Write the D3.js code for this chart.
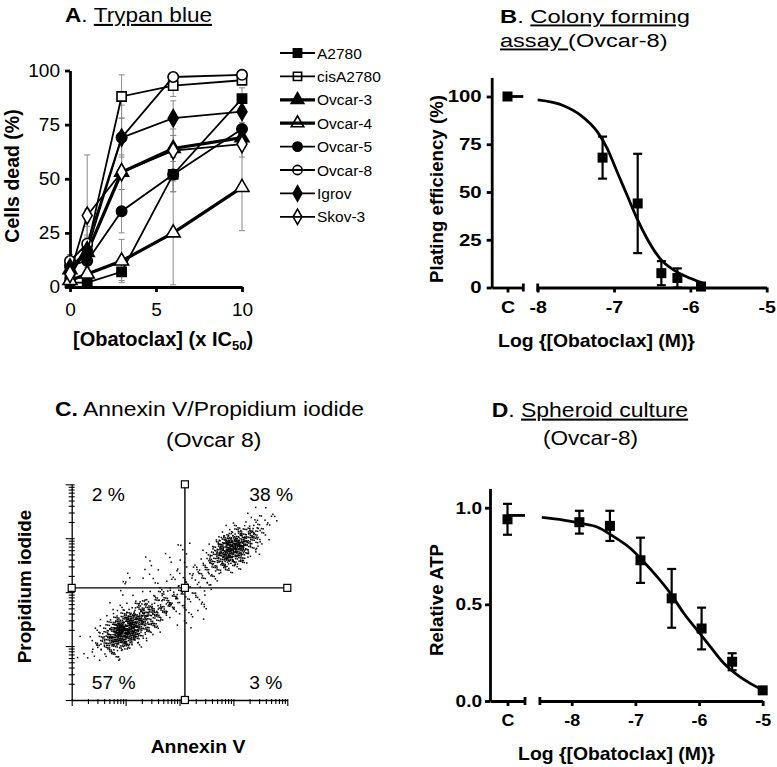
<!DOCTYPE html>
<html><head><meta charset="utf-8">
<script src="https://cdn.jsdelivr.net/npm/d3@7/dist/d3.min.js"></script>
<style>
html,body{margin:0;padding:0;background:#fff;}
svg{display:block;font-family:"Liberation Sans",Arial,sans-serif;}
</style></head>
<body><svg id="fig" width="777" height="767"></svg>
<script>
// ================= DATA =================
// ---- Panel A : Trypan blue ----
const doseA = [0, 1, 3, 6, 10];
const cellLines = ["A2780","cisA2780","Ovcar-3","Ovcar-4","Ovcar-5","Ovcar-8","Igrov","Skov-3"];
const deadA2780    = [2, 2, 7, 52, 87];
const deadCisA2780 = [5, 18, 88, 93, 95.5];
const deadOvcar3   = [8, 16, 53, 64, 69];
const deadOvcar4   = [3, 6, 12, 25, 46];
const deadOvcar5   = [10, 12, 35, 52, 73];
const deadOvcar8   = [12, 20, 69, 97, 98];
const deadIgrov    = [9, 17, 69, 78, 81];
const deadSkov3    = [6, 33, 53, 63, 66];
const sdA2780    = [1, 1, 4, 8, 5];
const sdCisA2780 = [2, 18, 10, 5, 2];
const sdOvcar3   = [2, 8, 8, 6, 4];
const sdOvcar4   = [1, 3, 10, 24, 20];
const sdOvcar5   = [3, 5, 10, 8, 6];
const sdOvcar8   = [3, 8, 15, 2, 1];
const sdIgrov    = [2, 6, 9, 8, 5];
const sdSkov3    = [2, 28, 18, 10, 6];
const yTicksA = [0, 25, 50, 75, 100];
const xTicksA = [0, 5, 10];

// ---- Panel B : Colony forming ----
const bLogDose = [-7.15, -6.69, -6.38, -6.17, -5.86];
const bPlating = [68, 44, 7.5, 5, 0.5];
const bErr     = [11, 26, 6.3, 5, 1.5];
const bControl = 100;
const bCurveX = [-8.0, -7.66, -7.44, -7.22, -7.09, -6.96, -6.83, -6.70, -6.57, -6.40, -6.22, -6.0, -5.83];
const bCurveY = [98.2, 95.2, 90.3, 81.6, 72.9, 60.6, 48.4, 36.2, 25.8, 15.3, 9.2, 4.8, 2.2];
const yTicksB = [0, 25, 50, 75, 100];
const xTicksB = [-8, -7, -6, -5];

// ---- Panel C : Annexin V / PI (cells of 0.2 decade: [annexinCell, piCell, count]) ----
const facsCells = [
 [0,4,1],[1,4,3],[1,5,2],
 [2,3,1],[2,4,6],[2,5,10],[2,6,4],[2,7,1],
 [3,4,15],[3,5,45],[3,6,32],[3,7,3],[3,9,1],
 [4,4,8],[4,5,70],[4,6,120],[4,7,30],[4,8,3],[4,10,2],
 [5,5,35],[5,6,100],[5,7,65],[5,8,8],[5,9,2],[5,10,2],[5,11,2],
 [6,5,6],[6,6,40],[6,7,55],[6,8,25],[6,9,3],[6,11,2],[6,12,1],
 [7,6,10],[7,7,30],[7,8,30],[7,9,8],[7,10,2],[7,11,3],[7,12,2],
 [8,7,10],[8,8,22],[8,9,16],[8,10,3],[8,11,3],[8,13,1],
 [9,8,10],[9,9,14],[9,10,5],[9,11,3],[9,12,2],[9,13,2],
 [10,7,3],[10,8,4],[10,9,8],[10,10,4],[10,11,4],[10,12,2],[10,13,3],[10,14,2],
 [11,7,2],[11,8,4],[11,9,8],[11,10,5],[11,11,8],[11,12,3],
 [12,8,2],[12,9,3],[12,10,3],[12,11,12],[12,12,14],[12,13,5],
 [13,11,6],[13,12,25],[13,13,40],[13,14,12],
 [14,12,20],[14,13,85],[14,14,75],[14,15,8],
 [15,12,8],[15,13,50],[15,14,95],[15,15,25],
 [16,13,8],[16,14,32],[16,15,30],[16,16,6],
 [17,14,4],[17,15,12],[17,16,8],[17,17,2],
 [18,16,4],[18,17,3]
];
const gateAnnexin = 126;   // ~10^2.1
const gatePI = 120;        // ~10^2.08
const quadLabels = ["2 %", "38 %", "57 %", "3 %"];

// ---- Panel D : Spheroid culture ----
const dLogDose = [-7.88, -7.40, -6.92, -6.43, -5.96, -5.48, -5.00];
const dATP     = [0.925, 0.906, 0.728, 0.531, 0.375, 0.203, 0.055];
const dErr     = [0.059, 0.078, 0.117, 0.152, 0.108, 0.044, 0];
const dControl = 0.94, dControlErr = 0.08, dTop = 0.96;
const dCurveX = [-8.47, -8.13, -7.87, -7.6, -7.34, -7.08, -6.87, -6.66, -6.45, -6.24, -6.03, -5.82, -5.61, -5.4, -5.19, -5.0];
const dCurveY = [0.95, 0.936, 0.92, 0.90, 0.85, 0.79, 0.72, 0.643, 0.557, 0.454, 0.367, 0.28, 0.195, 0.135, 0.09, 0.057];
const yTicksD = [0, 0.5, 1.0];
const xTicksD = [-8, -7, -6, -5];

// ================= HELPERS =================
const FONT = '"Liberation Sans", Arial, sans-serif';
const svg = d3.select("#fig");

function txt(parent, x, y, parts, o = {}) {
  const t = parent.append("text")
    .attr("transform", `translate(${x},${y})` + (o.rot ? ` rotate(${o.rot})` : "") + ` scale(${o.sx || 1},1)`)
    .attr("text-anchor", o.anchor || "start")
    .attr("xml:space", "preserve")
    .style("font-family", FONT)
    .style("font-size", (o.size || 16) + "px")
    .style("font-weight", o.bold ? "bold" : "normal")
    .attr("fill", "#000");
  (typeof parts === "string" ? [{t: parts}] : parts).forEach(p => {
    const s = t.append("tspan").text(p.t);
    if (p.b) s.style("font-weight", "bold");
    if (p.n) s.style("font-weight", "normal");
    if (p.u) s.style("text-decoration", "underline");
    if (p.dy) s.attr("dy", p.dy);
    if (p.fs) s.style("font-size", p.fs + "px");
  });
  return t;
}

function styleAxis(g, w, size, bold, sx) {
  g.attr("font-family", FONT);
  g.select(".domain").attr("stroke-width", w).attr("stroke", "#000");
  g.selectAll(".tick line").attr("stroke-width", w).attr("stroke", "#000");
  g.selectAll(".tick text")
    .style("font-size", size + "px").style("font-weight", bold ? "bold" : "normal")
    .style("font-family", FONT).attr("fill", "#000")
    .each(function () {
      const t = d3.select(this);
      const x = +t.attr("x") || 0;
      t.attr("x", x / sx).attr("transform", `scale(${sx},1)`);
    });
}

// ================= PANEL A =================
const gA = svg.append("g");
const xA = d3.scaleLinear().domain([0, 10]).range([70, 242]);
const yA = d3.scaleLinear().domain([0, 100]).range([287, 70.5]);

const seriesA = [
  {vals: deadA2780,    sd: sdA2780,    sym: d3.symbolSquare,   fill: true,  thick: false, size: 85},
  {vals: deadCisA2780, sd: sdCisA2780, sym: d3.symbolSquare,   fill: false, thick: false, size: 85},
  {vals: deadOvcar3,   sd: sdOvcar3,   sym: d3.symbolTriangle, fill: true,  thick: true,  size: 85},
  {vals: deadOvcar4,   sd: sdOvcar4,   sym: d3.symbolTriangle, fill: false, thick: true,  size: 85},
  {vals: deadOvcar5,   sd: sdOvcar5,   sym: d3.symbolCircle,   fill: true,  thick: false, size: 85},
  {vals: deadOvcar8,   sd: sdOvcar8,   sym: d3.symbolCircle,   fill: false, thick: false, size: 85},
  {vals: deadIgrov,    sd: sdIgrov,    sym: d3.symbolDiamond,  fill: true,  thick: false, size: 85},
  {vals: deadSkov3,    sd: sdSkov3,    sym: d3.symbolDiamond,  fill: false, thick: false, size: 85}
].map((s, i) => Object.assign(s, {name: cellLines[i]}));

// error bars
const errG = gA.append("g").attr("stroke", "#8a8a8a").attr("stroke-width", 1);
seriesA.forEach(s => {
  doseA.forEach((d, k) => {
    const lo = Math.max(0, s.vals[k] - s.sd[k]), hi = s.vals[k] + s.sd[k];
    errG.append("line").attr("x1", xA(d)).attr("x2", xA(d)).attr("y1", yA(lo)).attr("y2", yA(hi));
    errG.append("line").attr("x1", xA(d) - 3).attr("x2", xA(d) + 3).attr("y1", yA(hi)).attr("y2", yA(hi));
    errG.append("line").attr("x1", xA(d) - 3).attr("x2", xA(d) + 3).attr("y1", yA(lo)).attr("y2", yA(lo));
  });
});

// axes A
const axYA = gA.append("g").attr("transform", "translate(70,0)")
  .call(d3.axisLeft(yA).tickValues(yTicksA).tickSize(5).tickPadding(5).tickSizeOuter(0));
styleAxis(axYA, 2.8, 18, false, 1.06);
const axXA = gA.append("g").attr("transform", "translate(0,287)")
  .call(d3.axisBottom(xA).tickValues(xTicksA).tickSize(5).tickPadding(11).tickSizeOuter(0));
styleAxis(axXA, 2.8, 18, false, 1.06);

// lines + markers
const lineA = d3.line().x((d, k) => xA(doseA[k])).y(d => yA(d));
seriesA.forEach(s => {
  gA.append("path").attr("d", lineA(s.vals)).attr("fill", "none")
    .attr("stroke", "#000").attr("stroke-width", s.thick ? 3.2 : 1.8);
  gA.selectAll(null).data(s.vals).enter().append("path")
    .attr("transform", (d, k) => `translate(${xA(doseA[k])},${yA(d)})`)
    .attr("d", d3.symbol().type(s.sym).size(s.size))
    .attr("fill", s.fill ? "#000" : "#fff").attr("stroke", "#000").attr("stroke-width", 1.6);
});

// legend A
const legA = gA.append("g");
seriesA.forEach((s, i) => {
  const y = 53 + i * 23.4;
  legA.append("line").attr("x1", 280).attr("x2", 315).attr("y1", y).attr("y2", y)
    .attr("stroke", "#000").attr("stroke-width", s.thick ? 3.2 : 1.8);
  legA.append("path").attr("transform", `translate(297.5,${y})`)
    .attr("d", d3.symbol().type(s.sym).size(s.size * 0.8))
    .attr("fill", s.fill ? "#000" : "none").attr("stroke", "#000").attr("stroke-width", 1.6);
  txt(legA, 317, y + 5.5, s.name, {size: 15.5});
});

// titles / labels A
txt(gA, 65, 22, [{t: "A", b: true}, {t: ". "}, {t: "Trypan blue", u: true}], {size: 20.5, sx: 1.1});
txt(gA, 19, 176, "Cells dead (%)", {size: 19.5, bold: true, rot: -90, anchor: "middle"});
txt(gA, 73, 346, [{t: "[Obatoclax] (x IC"}, {t: "50", fs: 13, dy: 4}, {t: ")", dy: -4}], {size: 20, bold: true});

// ================= PANEL B =================
const gB = svg.append("g");
const yB = d3.scaleLinear().domain([0, 110]).range([287.5, 287.5 - 110 * 1.91]);
const cB = d3.scalePoint().domain(["C"]).range([491.7, 523.3]).padding(0.5);
const xB = d3.scaleLinear().domain([-8, -5]).range([537.7, 766.7]);

const axYB = gB.append("g").attr("transform", "translate(491.7,0)")
  .call(d3.axisLeft(yB).tickValues(yTicksB).tickSize(5).tickPadding(5).tickSizeOuter(0));
styleAxis(axYB, 2.8, 17, true, 1.2);
const axCB = gB.append("g").attr("transform", "translate(0,287.5)")
  .call(d3.axisBottom(cB).tickSize(5).tickPadding(8).tickSizeOuter(0));
styleAxis(axCB, 2.8, 17, true, 1.15);
const axXB = gB.append("g").attr("transform", "translate(0,287.5)")
  .call(d3.axisBottom(xB).tickValues(xTicksB).tickFormat(d => String(d)).tickSize(5).tickPadding(8).tickSizeOuter(0));
styleAxis(axXB, 2.8, 17, true, 1.15);
[cB.range()[1], xB.range()[0]].forEach(x => gB.append("line").attr("x1", x).attr("x2", x)
  .attr("y1", 287.5 - 4).attr("y2", 287.5 + 4).attr("stroke", "#000").attr("stroke-width", 2.8));

// curve
gB.append("path").datum(bCurveX.map((x, i) => [x, bCurveY[i]]))
  .attr("d", d3.line().x(d => xB(d[0])).y(d => yB(d[1])).curve(d3.curveMonotoneX))
  .attr("fill", "none").attr("stroke", "#000").attr("stroke-width", 2.8);
// control
gB.append("line").attr("x1", cB("C")).attr("x2", cB.range()[1]).attr("y1", yB(bControl)).attr("y2", yB(bControl))
  .attr("stroke", "#000").attr("stroke-width", 2.8);
gB.append("rect").attr("x", cB("C") - 5).attr("y", yB(bControl) - 5).attr("width", 10).attr("height", 10).attr("fill", "#000");
// error bars + points
bLogDose.forEach((x, i) => {
  const lo = Math.max(0, bPlating[i] - bErr[i]), hi = bPlating[i] + bErr[i];
  const X = xB(x);
  gB.append("line").attr("x1", X).attr("x2", X).attr("y1", yB(lo)).attr("y2", yB(hi)).attr("stroke", "#000").attr("stroke-width", 2.2);
  [lo, hi].forEach(v => gB.append("line").attr("x1", X - 4.5).attr("x2", X + 4.5).attr("y1", yB(v)).attr("y2", yB(v)).attr("stroke", "#000").attr("stroke-width", 2.2));
  gB.append("rect").attr("x", X - 5).attr("y", yB(bPlating[i]) - 5).attr("width", 10).attr("height", 10).attr("fill", "#000");
});
txt(gB, 500, 22.7, [{t: "B", b: true}, {t: ". "}, {t: "Colony forming", u: true}], {size: 19, sx: 1.25});
txt(gB, 500, 46.7, [{t: "assay ", u: true}, {t: "(Ovcar-8)"}], {size: 19, sx: 1.24});
txt(gB, 443, 189, "Plating efficiency (%)", {size: 18.7, bold: true, rot: -90, anchor: "middle"});
txt(gB, 596.5, 346.5, "Log {[Obatoclax] (M)}", {size: 18.8, bold: true, anchor: "middle", sx: 1.03});

// ================= PANEL C =================
const gC = svg.append("g");
const xC = d3.scaleLog().domain([1, 1e4]).range([71.7, 287.3]);
const yC = d3.scaleLog().domain([1, 1e4]).range([700, 484.3]);
const logTicks = [];
for (let e = 0; e < 4; e++) for (let m = 1; m <= 9; m++) logTicks.push(m * Math.pow(10, e));
logTicks.push(1e4);
const isMajor = v => Math.abs(Math.log10(v) - Math.round(Math.log10(v))) < 1e-9;

// dots: each cell's events spread smoothly around the cell centre
const frac = v => v - Math.floor(v);
const dotG = gC.append("g").attr("fill", "#000");
facsCells.forEach(([i, j, n]) => {
  for (let k = 0; k < n; k++) {
    const u = frac(0.31 + k * 0.7548776662 + i * 0.37 + j * 0.11) + frac(0.17 + k * 0.4142135624 + i * 0.23 + j * 0.53);
    const v = frac(0.43 + k * 0.5698402910 + j * 0.41 + i * 0.07) + frac(0.61 + k * 0.2360679775 + j * 0.19 + i * 0.29);
    const lx = (i - 0.5 + u) * 0.2, ly = (j - 0.5 + v) * 0.2;
    dotG.append("rect").attr("x", xC(Math.pow(10, lx)) - 0.7).attr("y", yC(Math.pow(10, ly)) - 0.7)
      .attr("width", 1.5).attr("height", 1.5);
  }
});

const axYC = gC.append("g").attr("transform", "translate(71.7,0)")
  .call(d3.axisLeft(yC).tickValues(logTicks).tickFormat("").tickSize(3).tickSizeOuter(0));
axYC.selectAll(".tick line").attr("x1", 3).attr("x2", d => isMajor(d) ? -6 : -3);
const axXC = gC.append("g").attr("transform", "translate(0,700)")
  .call(d3.axisBottom(xC).tickValues(logTicks).tickFormat("").tickSize(3).tickSizeOuter(0));
axXC.selectAll(".tick line").attr("y1", -1).attr("y2", d => isMajor(d) ? 6 : 4);
[axYC, axXC].forEach(g => { g.select(".domain").attr("stroke", "#000").attr("stroke-width", 1.3); g.selectAll(".tick line").attr("stroke", "#000").attr("stroke-width", 1.1); });

// gates
const gx = xC(gateAnnexin), gy = yC(gatePI);
gC.append("line").attr("x1", gx).attr("x2", gx).attr("y1", yC(1e4)).attr("y2", yC(1)).attr("stroke", "#000").attr("stroke-width", 1.4);
gC.append("line").attr("x1", xC(1)).attr("x2", xC(1e4)).attr("y1", gy).attr("y2", gy).attr("stroke", "#000").attr("stroke-width", 1.4);
[[gx, yC(1e4)], [gx, yC(1)], [xC(1), gy], [xC(1e4), gy], [gx, gy]].forEach(([x, y]) =>
  gC.append("rect").attr("x", x - 3.5).attr("y", y - 3.5).attr("width", 7).attr("height", 7)
    .attr("fill", "#fff").attr("stroke", "#000").attr("stroke-width", 1.2));

txt(gC, 91.7, 500.7, quadLabels[0], {size: 18.5, sx: 1.04});
txt(gC, 249.3, 500.7, quadLabels[1], {size: 18.5, sx: 1.04});
txt(gC, 91.7, 689.3, quadLabels[2], {size: 18.5, sx: 1.04});
txt(gC, 249.3, 689.3, quadLabels[3], {size: 18.5, sx: 1.04});

txt(gC, 55, 416, [{t: "C.", b: true}, {t: " Annexin V/Propidium iodide"}], {size: 21, sx: 1.09});
txt(gC, 213.7, 446.7, "(Ovcar 8)", {size: 21, sx: 1.09, anchor: "middle"});
txt(gC, 31, 586.5, "Propidium iodide", {size: 18.8, bold: true, rot: -90, anchor: "middle"});
txt(gC, 198, 752.7, "Annexin V", {size: 19, bold: true, anchor: "middle", sx: 1.02});

// ================= PANEL D =================
const gD = svg.append("g");
const yD = d3.scaleLinear().domain([0, 1.1]).range([701, 701 - 1.1 * 193.3]);
const cD = d3.scalePoint().domain(["C"]).range([490, 525]).padding(0.5);
const xD = d3.scaleLinear().domain([-8.5, -5]).range([539.9, 762.7]);

const axYD = gD.append("g").attr("transform", "translate(490,0)")
  .call(d3.axisLeft(yD).tickValues(yTicksD).tickFormat(d3.format(".1f")).tickSize(5).tickPadding(3).tickSizeOuter(0));
styleAxis(axYD, 2.8, 17, true, 1.12);
const axCD = gD.append("g").attr("transform", "translate(0,701)")
  .call(d3.axisBottom(cD).tickSize(5).tickPadding(8).tickSizeOuter(0));
styleAxis(axCD, 2.8, 17, true, 1.05);
const axXD = gD.append("g").attr("transform", "translate(0,701)")
  .call(d3.axisBottom(xD).tickValues(xTicksD).tickFormat(d => String(d)).tickSize(5).tickPadding(8).tickSizeOuter(0));
styleAxis(axXD, 2.8, 17, true, 1.05);
[cD.range()[1], xD.range()[0]].forEach(x => gD.append("line").attr("x1", x).attr("x2", x)
  .attr("y1", 701 - 4).attr("y2", 701 + 4).attr("stroke", "#000").attr("stroke-width", 2.8));

gD.append("path").datum(dCurveX.map((x, i) => [x, dCurveY[i]]))
  .attr("d", d3.line().x(d => xD(d[0])).y(d => yD(d[1])).curve(d3.curveMonotoneX))
  .attr("fill", "none").attr("stroke", "#000").attr("stroke-width", 2.8);
gD.append("line").attr("x1", cD("C")).attr("x2", cD.range()[1]).attr("y1", yD(dTop)).attr("y2", yD(dTop))
  .attr("stroke", "#000").attr("stroke-width", 2.8);
function errPoint(g, X, yS, val, err) {
  if (err > 0) {
    g.append("line").attr("x1", X).attr("x2", X).attr("y1", yS(val - err)).attr("y2", yS(val + err)).attr("stroke", "#000").attr("stroke-width", 2.2);
    [val - err, val + err].forEach(v => g.append("line").attr("x1", X - 4.5).attr("x2", X + 4.5).attr("y1", yS(v)).attr("y2", yS(v)).attr("stroke", "#000").attr("stroke-width", 2.2));
  }
  g.append("rect").attr("x", X - 5).attr("y", yS(val) - 5).attr("width", 10).attr("height", 10).attr("fill", "#000");
}
errPoint(gD, cD("C"), yD, dControl, dControlErr);
dLogDose.forEach((x, i) => errPoint(gD, xD(x), yD, dATP[i], dErr[i]));

txt(gD, 491.7, 416.7, [{t: "D", b: true}, {t: ". "}, {t: "Spheroid culture", u: true}], {size: 20.5, sx: 1.12});
txt(gD, 590.5, 445, "(Ovcar-8)", {size: 20.5, sx: 1.1, anchor: "middle"});
txt(gD, 443, 600, "Relative ATP", {size: 18.7, bold: true, rot: -90, anchor: "middle"});
txt(gD, 616.5, 760, "Log {[Obatoclax] (M)}", {size: 18.8, bold: true, anchor: "middle", sx: 1.03});
</script>
</body></html>
